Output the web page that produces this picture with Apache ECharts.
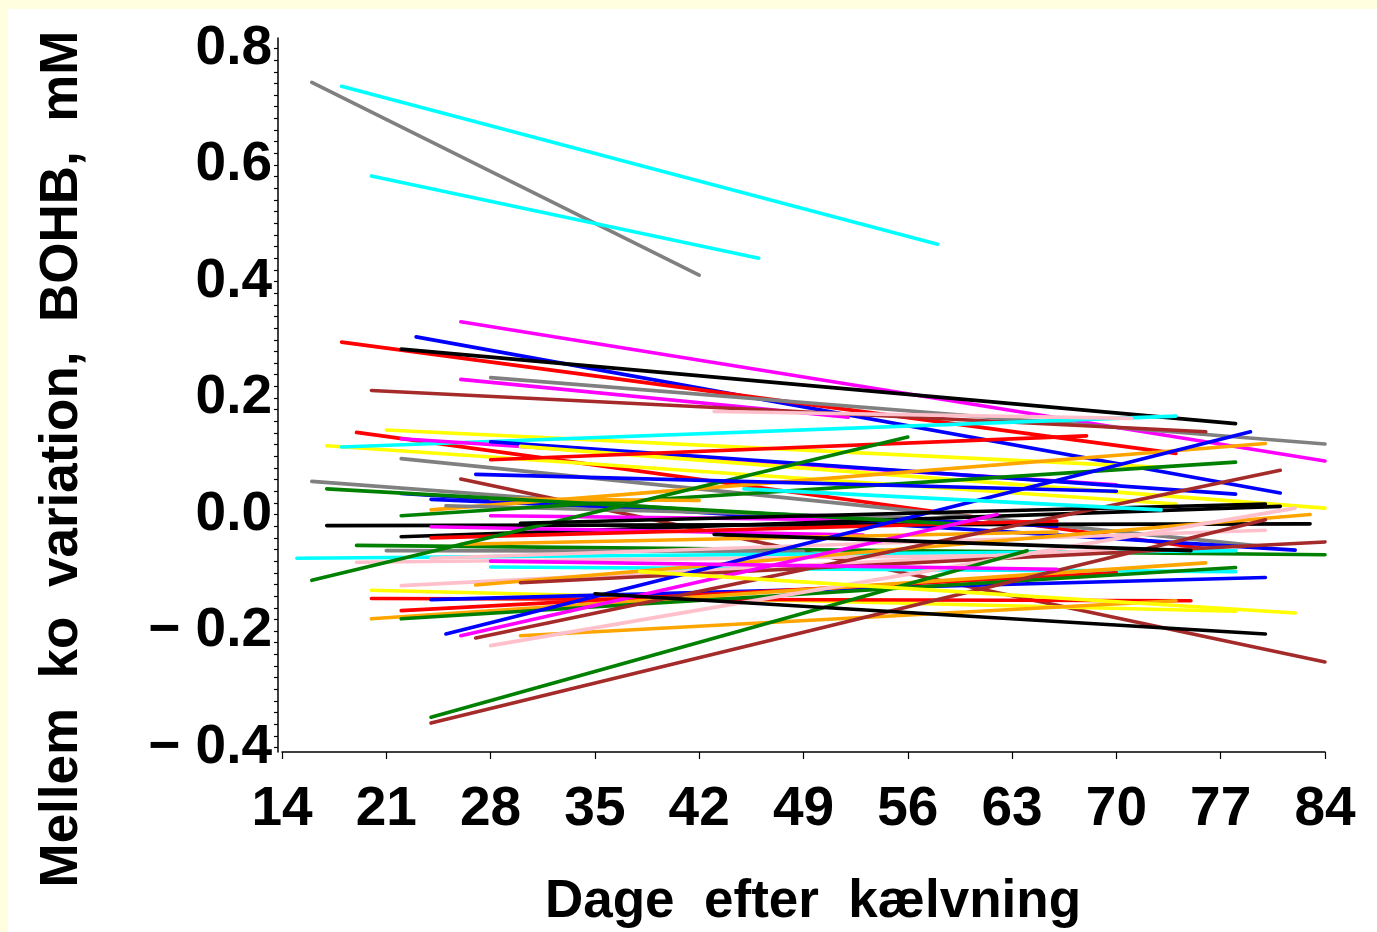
<!DOCTYPE html>
<html>
<head>
<meta charset="utf-8">
<script src="https://cdn.jsdelivr.net/npm/echarts@6/dist/echarts.min.js"></script>
<style>
html,body{margin:0;padding:0;background:#FFFFE0;width:1377px;height:932px;overflow:hidden;}
#chart{position:absolute;left:8px;top:9px;width:1369px;height:923px;background:#FFFFFF;}
</style>
</head>
<body>
<div id="chart"></div>
<script>
// Each cow: regression line from (startDay, startVal) to (endDay, endVal)
const startDay = [16,18,20,26,23,18,22,28,26,20,21,19,17,18,22,22,28,30,28,16,26,19,22,24,24,25,22,28,28,17,22,24,24,17,26,21,15,28,19,24,16,22,27,30,20,20,24,22,20,22,25,26,27,30,28,24,24,35,43,30,38,45,43,28,27];
const startVal = [0.742,0.735,0.581,0.331,0.305,0.296,0.284,0.235,0.232,0.213,0.145,0.141,0.118,0.116,0.130,0.096,0.125,0.117,0.094,0.057,0.061,-0.053,0.036,0.026,0.008,0.015,-0.002,-0.002,0.027,-0.019,-0.038,-0.021,-0.040,0.044,-0.051,-0.062,-0.075,-0.090,-0.082,-0.075,-0.113,-0.122,-0.121,-0.117,-0.130,-0.144,-0.146,-0.165,-0.179,-0.179,-0.205,-0.208,-0.212,-0.208,-0.225,-0.348,-0.358,-0.136,-0.034,-0.015,-0.098,0.044,0.177,-0.080,0.069];
const endDay = [42,58,46,84,81,74,78,84,52,76,73,77,74,74,70,80,78,84,68,53,84,84,82,66,80,56,78,56,42,83,81,53,66,59,66,49,78,78,64,80,56,70,83,84,78,75,80,70,76,78,79,62,81,74,82,64,80,80,75,80,82,73,71,66,70];
const endVal = [0.411,0.464,0.440,0.092,0.037,0.105,0.156,0.121,0.167,0.142,0.081,-0.062,0.018,0.169,0.051,-0.055,0.035,0.011,0.135,-0.014,-0.253,-0.069,-0.061,-0.020,0.122,-0.005,0.090,-0.010,0.024,-0.016,0.014,-0.035,-0.011,-0.016,-0.030,-0.063,-0.062,-0.098,-0.070,-0.027,0.133,-0.060,0.000,-0.047,-0.166,-0.148,-0.108,-0.100,-0.083,-0.091,0.142,0.000,0.076,-0.148,0.011,-0.062,-0.009,-0.205,-0.062,0.018,-0.169,0.008,0.165,-0.094,0.040];
const lineColor = ['gray','cyan','cyan','magenta','blue','red','black','gray','magenta','brown','yellow','red','yellow','cyan','magenta','gray','blue','yellow','red','gray','brown','green','blue','blue','orange','gray','green','magenta','orange','black','black','magenta','red','green','orange','gray','cyan','cyan','pink','pink','green','pink','orange','brown','yellow','red','blue','red','orange','green','blue','magenta','brown','orange','pink','green','brown','black','black','black','yellow','cyan','pink','magenta','blue'];

const xTicks = [14,21,28,35,42,49,56,63,70,77,84];
const yLabels = [-0.4,-0.2,0.0,0.2,0.4,0.6,0.8];
const yMinorTicks = [];
for (let i = -20; i <= 40; i++) yMinorTicks.push(+(i*0.02).toFixed(2));

const palette = {
  gray:'#808080', cyan:'#00FFFF', magenta:'#FF00FF', blue:'#0000FF', red:'#FF0000',
  black:'#000000', brown:'#A52A2A', yellow:'#FFFF00', green:'#008000', orange:'#FFA500', pink:'#FFC0CB'
};

const series = startDay.map((d, i) => ({
  type: 'line',
  data: [[d, startVal[i]], [endDay[i], endVal[i]]],
  showSymbol: false,
  symbol: 'none',
  silent: true,
  lineStyle: { color: palette[lineColor[i]], width: 3.6, cap: 'round' },
  z: 3
}));

const FONT = '"Liberation Sans", Arial, sans-serif';
const chart = echarts.init(document.getElementById('chart'), null, {renderer:'canvas'});
chart.setOption({
  animation: false,
  backgroundColor: '#FFFFFF',
  grid: { left: 274, right: 52, top: 29, bottom: 180, containLabel: false },
  xAxis: {
    type: 'value', min: 14, max: 84, interval: 7,
    axisLine: { show: true, onZero: false, lineStyle: { color: '#000', width: 1.5 } },
    axisTick: { show: true, length: 7, lineStyle: { color: '#000', width: 1.2 } },
    axisLabel: { fontSize: 55, fontWeight: 'bold', color: '#000', margin: 30, fontFamily: FONT,
      customValues: xTicks, formatter: v => String(v) },
    splitLine: { show: false }
  },
  yAxis: {
    type: 'value', min: -0.4076, max: 0.818, offset: 4,
    axisLine: { show: true, onZero: false, lineStyle: { color: '#000', width: 1.5 } },
    axisTick: { show: true, length: 4, customValues: yMinorTicks, lineStyle: { color: '#000', width: 1.2 } },
    axisLabel: { fontSize: 55, fontWeight: 'bold', color: '#000', margin: 6, fontFamily: FONT,
      customValues: yLabels,
      formatter: v => (v < -1e-9 ? '\u2212 ' + Math.abs(v).toFixed(1) : Math.abs(v).toFixed(1)) },
    splitLine: { show: false }
  },
  graphic: [
    { type: 'text', x: 805, y: 893,
      style: { text: 'Dage  efter  kælvning', font: 'bold 53px ' + FONT, fill: '#000', align: 'center', verticalAlign: 'middle' } },
    { type: 'text', x: 54, y: 450, rotation: Math.PI / 2,
      style: { text: 'Mellem  ko  variation,  BOHB,  mM', font: 'bold 53px ' + FONT, fill: '#000', align: 'center', verticalAlign: 'middle' } }
  ],
  series: series
});
</script>
</body>
</html>
